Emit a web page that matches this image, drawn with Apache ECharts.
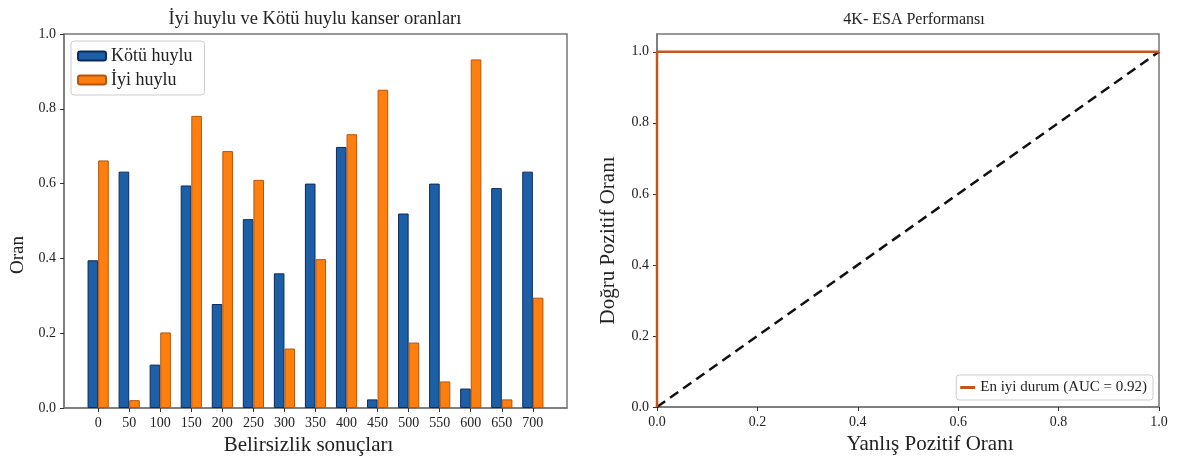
<!DOCTYPE html>
<html>
<head>
<meta charset="utf-8">
<script src="https://cdn.jsdelivr.net/npm/echarts@6/dist/echarts.min.js"></script>
<style>
html,body{margin:0;padding:0;background:#fff;}
#c{width:1180px;height:461px;}
</style>
</head>
<body>
<div id="c"></div>
<script>
// ---- Data ----
var categories = [0, 50, 100, 150, 200, 250, 300, 350, 400, 450, 500, 550, 600, 650, 700];
var kotuHuylu = [0.395, 0.632, 0.116, 0.595, 0.278, 0.505, 0.360, 0.600, 0.698, 0.023, 0.520, 0.600, 0.052, 0.588, 0.632];
var iyiHuylu  = [0.662, 0.021, 0.202, 0.781, 0.687, 0.610, 0.159, 0.398, 0.732, 0.851, 0.175, 0.071, 0.932, 0.023, 0.295];
var rocX = [0, 0, 1];
var rocY = [0, 1, 1];
var diagX = [0, 1];
var diagY = [0, 1];
var rocTicks = [0, 0.2, 0.4, 0.6, 0.8, 1.0];

var FONT = 'Liberation Serif';
var chart = echarts.init(document.getElementById('c'), null, {renderer: 'canvas'});

function pairs(xs, ys) { return xs.map(function (x, i) { return [x, ys[i]]; }); }
var fmt1 = function (v) { return Number(v).toFixed(1); };

var axisCommon = {
  axisLine: {show: true, onZero: false, lineStyle: {color: '#777', width: 1.5}},
  axisTick: {show: true, length: 4, lineStyle: {color: '#333'}},
  splitLine: {show: false},
  axisLabel: {fontFamily: FONT, fontSize: 14, color: '#222', formatter: fmt1}
};

var option = {
  backgroundColor: '#fff',
  animation: false,
  title: [
    {text: 'İyi huylu ve Kötü huylu kanser oranları', left: 310, top: 5, textAlign: 'center',
     textStyle: {fontFamily: FONT, fontSize: 18.5, fontWeight: 'normal', color: '#222'}},
    {text: '4K- ESA Performansı', left: 909, top: 7, textAlign: 'center',
     textStyle: {fontFamily: FONT, fontSize: 16, fontWeight: 'normal', color: '#222'}}
  ],
  grid: [
    {left: 64, top: 34, width: 503, height: 374, show: true, borderColor: '#777', borderWidth: 1.5, containLabel: false},
    {left: 657, top: 34, width: 502, height: 373, show: true, borderColor: '#777', borderWidth: 1.5, containLabel: false}
  ],
  legend: [
    {data: ['Kötü huylu', 'İyi huylu'], orient: 'vertical', left: 71, top: 41,
     itemWidth: 28, itemHeight: 9, itemGap: 6, padding: [6, 12, 6, 6],
     borderColor: '#ccc', borderWidth: 1, borderRadius: 3, backgroundColor: '#fff',
     textStyle: {fontFamily: FONT, fontSize: 18, color: '#222'}},
    {data: ['En iyi durum (AUC = 0.92)'], right: 27, top: 375,
     itemWidth: 15, itemHeight: 3, icon: 'rect', padding: [5, 6, 5, 4],
     borderColor: '#ccc', borderWidth: 1, borderRadius: 3, backgroundColor: '#fff',
     textStyle: {fontFamily: FONT, fontSize: 15, color: '#222'}}
  ],
  xAxis: [
    Object.assign({}, axisCommon, {
      gridIndex: 0, type: 'value', min: -55, max: 755,
      name: 'Belirsizlik sonuçları', nameLocation: 'middle', nameGap: 26,
      nameTextStyle: {fontFamily: FONT, fontSize: 21, color: '#222', padding: [0, 14, 0, 0]},
      axisTick: {show: true, length: 4, lineStyle: {color: '#333'}, customValues: categories},
      axisLabel: {fontFamily: FONT, fontSize: 14, color: '#222', customValues: categories,
                  formatter: function (v) { return String(v); }}
    }),
    Object.assign({}, axisCommon, {
      gridIndex: 1, type: 'value', min: 0, max: 1, interval: 0.2,
      name: 'Yanlış Pozitif Oranı', nameLocation: 'middle', nameGap: 22,
      nameTextStyle: {fontFamily: FONT, fontSize: 21, color: '#222', padding: [0, 0, 0, 44]}
    })
  ],
  yAxis: [
    Object.assign({}, axisCommon, {
      gridIndex: 0, type: 'value', min: 0, max: 1, interval: 0.2,
      name: 'Oran', nameLocation: 'middle', nameGap: 36,
      nameTextStyle: {fontFamily: FONT, fontSize: 19, color: '#222', padding: [0, 68, 0, 0]}
    }),
    Object.assign({}, axisCommon, {
      gridIndex: 1, type: 'value', min: 0, max: 1.05,
      name: 'Doğru Pozitif Oranı', nameLocation: 'middle', nameGap: 38,
      nameTextStyle: {fontFamily: FONT, fontSize: 21, color: '#222', padding: [0, 40, 0, 0]},
      axisTick: {show: true, length: 4, lineStyle: {color: '#333'}, customValues: rocTicks},
      axisLabel: {fontFamily: FONT, fontSize: 14, color: '#222', customValues: rocTicks, formatter: fmt1}
    })
  ],
  series: [
    {name: 'Kötü huylu', type: 'bar', xAxisIndex: 0, yAxisIndex: 0,
     barWidth: 10.6, barGap: '0%',
     itemStyle: {color: '#1c5fa6', borderColor: '#0b2b5c', borderWidth: 1},
     data: pairs(categories, kotuHuylu)},
    {name: 'İyi huylu', type: 'bar', xAxisIndex: 0, yAxisIndex: 0,
     barWidth: 10.6, barGap: '0%',
     itemStyle: {color: '#ff7f0e', borderColor: '#b5560a', borderWidth: 1},
     data: pairs(categories, iyiHuylu)},
    {name: 'Şans', type: 'line', xAxisIndex: 1, yAxisIndex: 1, symbol: 'none',
     lineStyle: {color: '#111', width: 2.5, type: [10, 6]},
     data: pairs(diagX, diagY), z: 2},
    {name: 'En iyi durum (AUC = 0.92)', type: 'line', xAxisIndex: 1, yAxisIndex: 1, symbol: 'none',
     itemStyle: {color: '#c4561d'},
     lineStyle: {color: '#c4561d', width: 2.5},
     data: pairs(rocX, rocY), z: 3}
  ]
};
chart.setOption(option);
</script>
</body>
</html>
